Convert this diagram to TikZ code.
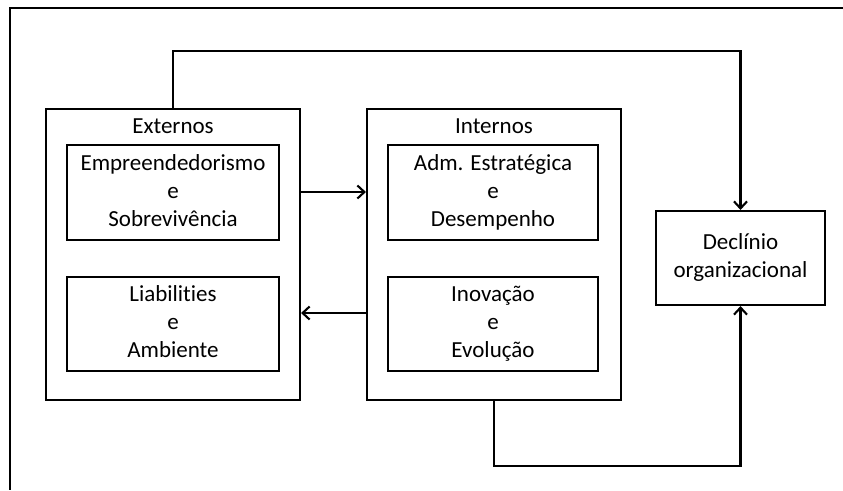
\documentclass[tikz,border=0pt]{standalone}
\usepackage{fontspec}
\setmainfont{Carlito}[Ligatures=CommonOff]
\usetikzlibrary{arrows.meta}
\newcommand{\boxtext}[1]{\raisebox{-3pt}{\begin{tabular}{@{}c@{}}#1\end{tabular}}}
\begin{document}
\begin{tikzpicture}[x=1pt,y=-1pt,
  txt/.style={font=\fontsize{23}{28}\selectfont, align=center, inner sep=0pt},
  box/.style={draw, line width=2.1pt, inner sep=0pt, txt},
  frame/.style={line width=1.5pt},
  conn/.style={line width=2.1pt},
  arr/.style={conn, -{Straight Barb[length=7pt,width=13pt,line width=2.1pt]}}]
\useasboundingbox (0,0) rectangle (843,490);
% outer frame (top and left edges only)
\coordinate (ftl) at (10,8);
\coordinate (ftr) at (843,8);
\coordinate (fbl) at (10,490);
\draw[frame] (ftr) -- (ftl) -- (fbl);
% group boxes
\node[box, minimum width=254pt, minimum height=291pt] (ext) at (173,254.5) {};
\node[box, minimum width=254pt, minimum height=291pt] (int) at (494,254.5) {};
\node[txt] (extl) at (173,126) {Externos};
\node[txt] (intl) at (494,126) {Internos};
% inner boxes
\node[box, minimum width=212pt, minimum height=95pt] (emp) at (173,192.5) {\boxtext{Empreendedorismo\\e\\Sobrevivência}};
\node[box, minimum width=212pt, minimum height=94pt] (lia) at (173,324) {\boxtext{Liabili\kern0pt ties\\e\\Ambiente}};
\node[box, minimum width=210pt, minimum height=95pt] (adm) at (493,192.5) {\boxtext{Adm. Estratégica\\e\\Desempenho}};
\node[box, minimum width=210pt, minimum height=94pt] (ino) at (493,324) {\boxtext{Inovação\\e\\Evolução}};
\node[box, minimum width=169pt, minimum height=94pt] (dec) at (740.5,258) {\boxtext{Declínio\\organizacional}};
% connectors
\coordinate (topy) at (0,51);
\coordinate (boty) at (0,466);
\coordinate (a1) at (0,192);
\coordinate (a2) at (0,313);
\draw[arr] (ext.north) -- (ext.north |- topy) -- (dec.north |- topy) -- (dec.north);
\draw[arr] (int.south) -- (int.south |- boty) -- (dec.south |- boty) -- (dec.south);
\draw[arr] (ext.east |- a1) -- (int.west |- a1);
\draw[arr] (int.west |- a2) -- (ext.east |- a2);
\end{tikzpicture}
\end{document}
